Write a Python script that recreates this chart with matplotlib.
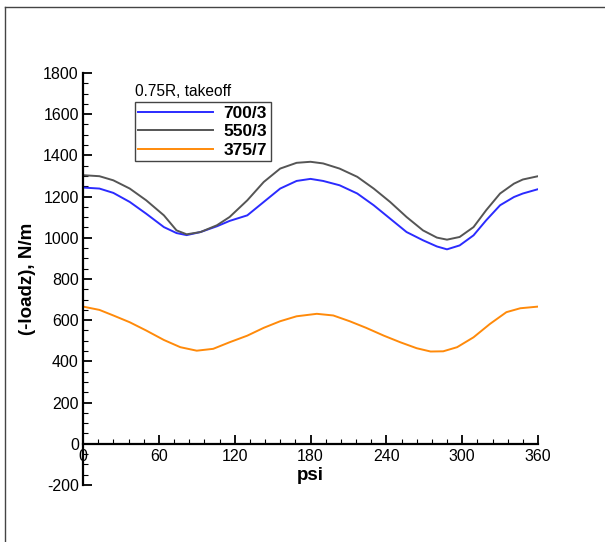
import numpy as np
import matplotlib
matplotlib.use('Agg')
import matplotlib.pyplot as plt
from matplotlib.lines import Line2D
from matplotlib.ticker import MultipleLocator

plt.rcParams['font.family'] = ['Liberation Sans', 'DejaVu Sans']
plt.rcParams['axes.unicode_minus'] = False

# DATA
psi_700 = [0, 13, 24, 37, 50, 64, 74, 82, 93, 106, 116, 130, 143, 156, 169, 180, 190, 203,
           217, 230, 243, 256, 269, 280, 288, 298, 309, 319, 330, 341, 348, 360]
load_700 = [1244, 1239, 1218, 1174, 1117, 1052, 1023, 1013, 1028, 1056, 1082, 1109, 1174,
            1239, 1276, 1286, 1276, 1255, 1215, 1158, 1093, 1028, 988, 958, 944, 963, 1012,
            1085, 1158, 1198, 1215, 1236]

psi_550 = [0, 13, 24, 37, 50, 64, 74, 82, 93, 106, 116, 130, 143, 156, 169, 180, 190, 203,
           217, 230, 243, 256, 269, 280, 288, 298, 309, 319, 330, 341, 348, 360]
load_550 = [1304, 1299, 1279, 1239, 1182, 1109, 1036, 1017, 1028, 1061, 1101, 1182, 1271,
            1336, 1364, 1369, 1361, 1336, 1296, 1239, 1174, 1101, 1036, 1001, 991, 1004, 1052,
            1134, 1215, 1263, 1283, 1299]

psi_375 = [0, 13, 24, 37, 50, 64, 77, 90, 103, 116, 130, 143, 156, 169, 185, 198, 211, 224,
           238, 251, 264, 275, 285, 296, 309, 322, 335, 346, 360]
load_375 = [666, 650, 623, 590, 550, 504, 469, 452, 461, 493, 525, 563, 595, 619, 631, 623,
            595, 563, 525, 493, 464, 448, 449, 469, 517, 582, 639, 658, 666]

labels = ['700/3', '550/3', '375/7']
colors = ['#2b2bff', '#555555', '#ff8a0a']

W, H = 605, 542
fig = plt.figure(figsize=(W / 100, H / 100), dpi=100)
ax = fig.add_axes([83 / W, 1 - 485 / H, (538 - 83) / W, (485 - 73) / H])

for x, y, lab, c in zip([psi_700, psi_550, psi_375], [load_700, load_550, load_375], labels, colors):
    ax.plot(x, y, color=c, lw=1.4, label=lab)

ax.set_xlim(0, 360)
ax.set_ylim(-200, 1800)
ax.xaxis.set_major_locator(MultipleLocator(60))
ax.xaxis.set_minor_locator(MultipleLocator(12))
ax.yaxis.set_major_locator(MultipleLocator(200))
ax.yaxis.set_minor_locator(MultipleLocator(50))

for s in ['top', 'right']:
    ax.spines[s].set_visible(False)
ax.spines['bottom'].set_position(('data', 0))
for s in ['left', 'bottom']:
    ax.spines[s].set_linewidth(1.6)

ax.tick_params(which='major', direction='in', length=6.5, width=1.3, labelsize=11.5, pad=3)
ax.tick_params(which='minor', direction='in', length=3.5, width=0.8)
ax.tick_params(axis='x', which='major', pad=4)

ax.set_xlabel('psi', fontsize=13.5, fontweight='bold', labelpad=2)
ax.set_ylabel('(-loadz), N/m', fontsize=13.5, fontweight='bold', labelpad=5)

leg = fig.legend(loc='upper left', bbox_to_anchor=(135 / W, 1 - 102 / H), borderaxespad=0,
                 fancybox=False, frameon=True, edgecolor='#444444', framealpha=1,
                 handlelength=4.3, handletextpad=0.6, labelspacing=0.2, borderpad=0.2,
                 prop={'weight': 'bold', 'size': 12.5})
leg.get_frame().set_linewidth(1.0)
fig.text(135 / W, 1 - 91 / H, '0.75R, takeoff', fontsize=11.2, va='center', ha='left')

# outer frame (top and left edges)
fig.add_artist(Line2D([5 / W, 1], [1 - 7 / H, 1 - 7 / H], transform=fig.transFigure,
                      color='#444444', lw=1))
fig.add_artist(Line2D([5 / W, 5 / W], [0, 1 - 7 / H], transform=fig.transFigure,
                      color='#444444', lw=1))

fig.savefig('out.png', dpi=100)
